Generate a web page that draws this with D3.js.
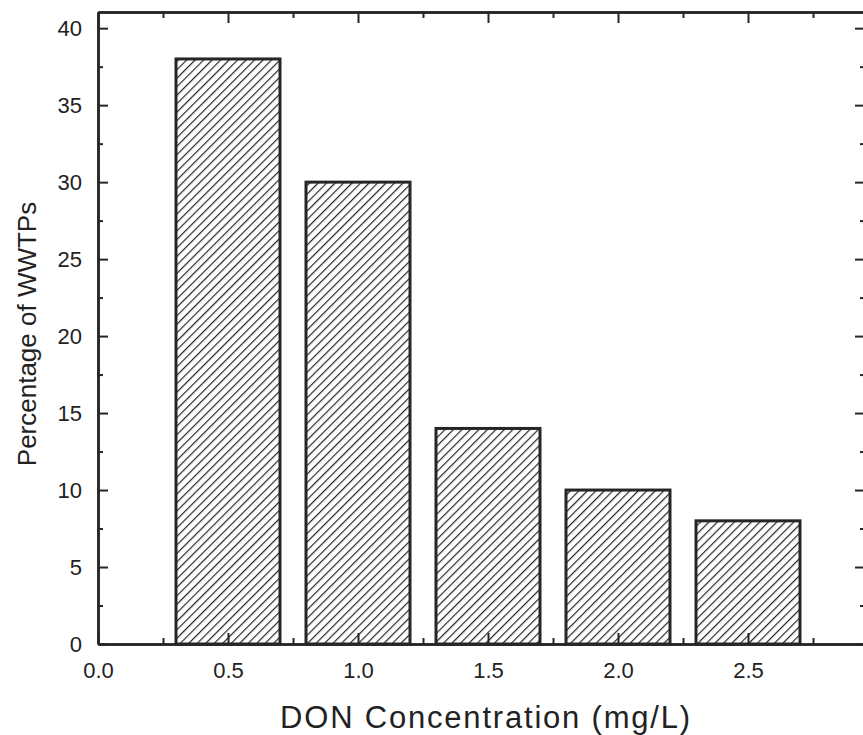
<!DOCTYPE html>
<html>
<head>
<meta charset="utf-8">
<script src="https://cdn.jsdelivr.net/npm/d3@7"></script>
<style>
  body { margin: 0; background: white; }
  text { font-family: "Liberation Sans", Arial, sans-serif; fill: #222; }
</style>
</head>
<body>
<svg id="chart"></svg>
<script>
"use strict";

// DON concentration bins (mg/L) and percentage of plants
const concentrations = [0.5, 1.0, 1.5, 2.0, 2.5];
const percentages = [38, 30, 14, 10, 8];
const x_ticks = [0.0, 0.5, 1.0, 1.5, 2.0, 2.5];
const y_ticks = [0, 5, 10, 15, 20, 25, 30, 35, 40];
const bar_width = 0.4;

const width = 863, height = 735;
const margins = {top: 12, right: -2, bottom: 91, left: 98};
const plot_width = width - margins.left - margins.right;
const plot_height = height - margins.top - margins.bottom;
const ink = "#262626";

const x_scale = d3.scaleLinear().domain([0, 2.95]).range([0, plot_width]);
const y_scale = d3.scaleLinear().domain([0, 41.05]).range([plot_height, 0]);

const svg = d3.select("#chart").attr("width", width).attr("height", height);
svg.append("rect").attr("width", width).attr("height", height).attr("fill", "white");

// Hatch pattern for the bars
const defs = svg.append("defs");
const pattern = defs.append("pattern")
    .attr("id", "hatch")
    .attr("patternUnits", "userSpaceOnUse")
    .attr("width", 6).attr("height", 6)
    .attr("patternTransform", "rotate(45)");
pattern.append("rect").attr("width", 6).attr("height", 6).attr("fill", "white");
pattern.append("line")
    .attr("x1", 0).attr("y1", 0).attr("x2", 0).attr("y2", 6)
    .attr("stroke", ink).attr("stroke-width", 2.4);

const g = svg.append("g").attr("transform", "translate(" + margins.left + "," + margins.top + ")");

// Bars
g.selectAll(".bar")
    .data(concentrations)
    .enter().append("rect")
    .attr("class", "bar")
    .attr("x", (d) => x_scale(d - bar_width / 2))
    .attr("width", (d) => x_scale(d + bar_width / 2) - x_scale(d - bar_width / 2))
    .attr("y", (d, i) => y_scale(percentages[i]))
    .attr("height", (d, i) => y_scale(0) - y_scale(percentages[i]))
    .attr("fill", "url(#hatch)")
    .attr("stroke", ink)
    .attr("stroke-width", 3);

// Axes: ticks point inward, minor ticks in between
const x_minor = d3.range(0.25, 2.94, 0.5);
const y_minor = d3.range(2.5, 41, 5);

function draw_axis(axis, transform, labels) {
    const a = g.append("g").attr("transform", transform).call(axis);
    a.attr("font-size", null).attr("font-family", null);
    a.select(".domain").attr("stroke", ink).attr("stroke-width", 2.5);
    a.selectAll(".tick line").attr("stroke", ink).attr("stroke-width", 2);
    if (labels) {
        a.selectAll(".tick text").style("font-size", "22px").attr("fill", ink);
    } else {
        a.selectAll(".tick text").remove();
    }
    return a;
}

// bottom
draw_axis(d3.axisBottom(x_scale).tickValues(x_ticks).tickFormat(d3.format(".1f"))
    .tickSizeInner(-11).tickSizeOuter(0).tickPadding(18),
    "translate(0," + plot_height + ")", true);
draw_axis(d3.axisBottom(x_scale).tickValues(x_minor).tickSizeInner(-6).tickSizeOuter(0),
    "translate(0," + plot_height + ")", false);
// top
draw_axis(d3.axisTop(x_scale).tickValues(x_ticks).tickSizeInner(-11).tickSizeOuter(0),
    "translate(0,0)", false);
draw_axis(d3.axisTop(x_scale).tickValues(x_minor).tickSizeInner(-6).tickSizeOuter(0),
    "translate(0,0)", false);
// left
draw_axis(d3.axisLeft(y_scale).tickValues(y_ticks)
    .tickSizeInner(-10).tickSizeOuter(0).tickPadding(16),
    "translate(0,0)", true);
draw_axis(d3.axisLeft(y_scale).tickValues(y_minor).tickSizeInner(-5).tickSizeOuter(0),
    "translate(0,0)", false);
// right
draw_axis(d3.axisRight(y_scale).tickValues(y_ticks).tickSizeInner(-10).tickSizeOuter(0),
    "translate(" + plot_width + ",0)", false);
draw_axis(d3.axisRight(y_scale).tickValues(y_minor).tickSizeInner(-5).tickSizeOuter(0),
    "translate(" + plot_width + ",0)", false);

// Axis titles
svg.append("text")
    .attr("x", 486).attr("y", 728)
    .attr("text-anchor", "middle")
    .style("font-size", "31px")
    .style("letter-spacing", "1.8px")
    .text("DON Concentration (mg/L)");

svg.append("text")
    .attr("transform", "translate(36," + 334 + ") rotate(-90)")
    .attr("text-anchor", "middle")
    .style("font-size", "26px")
    .text("Percentage of WWTPs");
</script>
</body>
</html>
